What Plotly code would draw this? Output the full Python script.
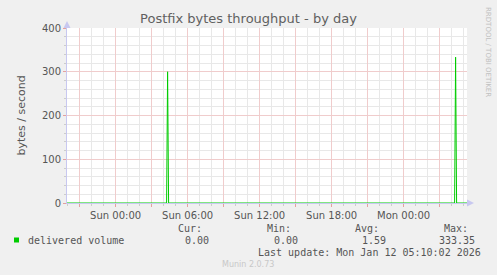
import plotly.graph_objects as go
import pandas as pd

# ---- data ----
times = ["2026-01-10 19:57", "2026-01-11 04:15", "2026-01-11 04:20", "2026-01-11 04:25",
         "2026-01-12 04:15", "2026-01-12 04:20", "2026-01-12 04:25", "2026-01-12 05:17"]
delivered = [0, 0, 300, 0, 0, 333.35, 0, 0]

x_range = ["2026-01-10 19:57", "2026-01-12 05:17"]
x_tickvals = ["2026-01-10 21:00", "2026-01-11 00:00", "2026-01-11 03:00", "2026-01-11 06:00",
              "2026-01-11 09:00", "2026-01-11 12:00", "2026-01-11 15:00", "2026-01-11 18:00",
              "2026-01-11 21:00", "2026-01-12 00:00", "2026-01-12 03:00"]
x_ticktext = ["", "Sun 00:00", "", "Sun 06:00", "", "Sun 12:00", "", "Sun 18:00", "", "Mon 00:00", ""]
y_tickvals = [0, 100, 200, 300, 400]

legend_name = "delivered volume"
stat_labels = ["Cur:", "Min:", "Avg:", "Max:"]
stat_values = ["0.00", "0.00", "1.59", "333.35"]
last_update = "Last update: Mon Jan 12 05:10:02 2026"

# minor grid positions (hourly / every 20), excluding major positions
hours = pd.date_range("2026-01-10 20:00", "2026-01-12 05:00", freq="h")
x_minor = [h.strftime("%Y-%m-%d %H:%M") for h in hours if h.hour % 3 != 0]
y_minor = [v for v in range(20, 400, 20) if v % 100 != 0]

# ---- layout geometry (pixels) ----
W, H = 497, 275
L, R, T, B = 67, 467, 28, 203
def px(x):
    return (x - L) / (R - L)
def py(y):
    return (B - y) / (B - T)

GREEN = "#00cc00"
TXT = "#555555"
MGRID = "#f0cccc"
GRID = "#e8e8e8"
MTICK = "#e4a0a0"
TICK = "#cccccc"
AXIS = "#c8c8f0"

fig = go.Figure()
fig.add_trace(go.Scatter(x=times, y=delivered, mode="lines",
                         line=dict(color=GREEN, width=1), showlegend=False,
                         hoverinfo="skip"))

fig.update_layout(
    width=W, height=H,
    margin=dict(l=L, r=W - R, t=T, b=H - B),
    paper_bgcolor="#f0f0f0", plot_bgcolor="#ffffff",
    font=dict(family="DejaVu Sans", size=10, color=TXT),
    title=dict(text="Postfix bytes throughput - by day", x=0.5, xanchor="center",
               y=1 - 18 / H, yanchor="middle",
               font=dict(family="DejaVu Sans", size=13, color="#606060")),
    showlegend=False,
)

fig.update_xaxes(
    type="date", range=x_range,
    tickmode="array", tickvals=x_tickvals, ticktext=x_ticktext,
    showgrid=True, gridcolor=MGRID, gridwidth=1,
    ticks="outside", ticklen=3, tickcolor=MTICK, tickwidth=1,
    tickfont=dict(family="DejaVu Sans", size=10, color=TXT),
    minor=dict(tickmode="array", tickvals=x_minor, showgrid=True, gridcolor=GRID,
               ticks="outside", ticklen=2, tickcolor=TICK),
    showline=True, linecolor=AXIS, linewidth=1, zeroline=False,
    fixedrange=True,
)
fig.update_yaxes(
    range=[0, 400], tickmode="array", tickvals=y_tickvals,
    showgrid=True, gridcolor=MGRID, gridwidth=1,
    ticks="outside", ticklen=3, tickcolor=MTICK,
    tickfont=dict(family="DejaVu Sans", size=10, color=TXT),
    minor=dict(tickmode="array", tickvals=y_minor, showgrid=True, gridcolor=GRID,
               ticks="outside", ticklen=2, tickcolor=TICK),
    showline=True, linecolor=AXIS, linewidth=1, zeroline=False,
    title=dict(text="bytes / second", standoff=14,
               font=dict(family="DejaVu Sans", size=11, color=TXT)),
    fixedrange=True,
)

# axis arrows
fig.add_shape(type="path", xref="paper", yref="paper",
              path=f"M {px(63.5)} {py(28)} L {px(70.5)} {py(28)} L {px(67)} {py(21)} Z",
              fillcolor=AXIS, line=dict(width=0))
fig.add_shape(type="path", xref="paper", yref="paper",
              path=f"M {px(467)} {py(199.5)} L {px(467)} {py(206.5)} L {px(474)} {py(203)} Z",
              fillcolor=AXIS, line=dict(width=0))

# legend
fig.add_shape(type="rect", xref="paper", yref="paper",
              x0=px(14), x1=px(19), y0=py(242.5), y1=py(237.5),
              fillcolor=GREEN, line=dict(width=0))
mono = dict(family="DejaVu Sans Mono", size=10, color=TXT)
fig.add_annotation(text=legend_name, xref="paper", yref="paper", x=px(26), y=py(240),
                   xanchor="left", yanchor="middle", showarrow=False, font=mono)
label_right = [204, 293, 381, 470]
value_right = [211, 299.5, 387.5, 477]
for lab, val, lx, vx in zip(stat_labels, stat_values, label_right, value_right):
    fig.add_annotation(text=lab, xref="paper", yref="paper", x=px(lx), y=py(228),
                       xanchor="right", yanchor="middle", showarrow=False, font=mono)
    fig.add_annotation(text=val, xref="paper", yref="paper", x=px(vx), y=py(240),
                       xanchor="right", yanchor="middle", showarrow=False, font=mono)
fig.add_annotation(text=last_update, xref="paper", yref="paper", x=px(483), y=py(252),
                   xanchor="right", yanchor="middle", showarrow=False, font=mono)
fig.add_annotation(text="Munin 2.0.73", xref="paper", yref="paper", x=px(248), y=py(264),
                   xanchor="center", yanchor="middle", showarrow=False,
                   font=dict(family="DejaVu Sans", size=8, color="#c8c8c8"))
fig.add_annotation(text="RRDTOOL / TOBI OETIKER", xref="paper", yref="paper",
                   x=px(488), y=py(5), xanchor="center", yanchor="top", textangle=90,
                   showarrow=False, font=dict(family="DejaVu Sans", size=7, color="#c0c0c0"))

fig.write_html("out.html", config={"displayModeBar": False})
